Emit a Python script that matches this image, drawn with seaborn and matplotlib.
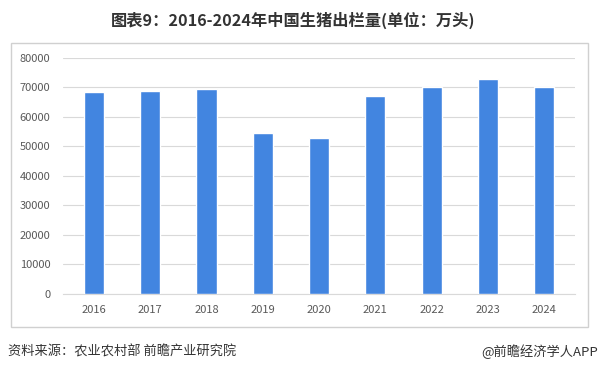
import numpy as np
import pandas as pd
import seaborn as sns
import matplotlib.pyplot as plt
from matplotlib.patches import Rectangle

#_____ data
years = ['2016', '2017', '2018', '2019', '2020', '2021', '2022', '2023', '2024']
output = [68502, 68861, 69382, 54419, 52704, 67128, 69995, 72662, 70256]
y_ticks = [0, 10000, 20000, 30000, 40000, 50000, 60000, 70000, 80000]

df = pd.DataFrame({'year': years, 'output': output})

sns.set_style('white')
plt.rcParams['font.family'] = ['Noto Sans CJK SC', 'DejaVu Sans']

fig = plt.figure(figsize=(5.98, 3.73), dpi=100)
ax = fig.add_axes([0.105, 0.212, 0.857, 0.633])

sns.barplot(data=df, x='year', y='output', color='#4285e0', saturation=1,
            width=0.36, ax=ax, zorder=3)

ax.set_ylim(0, 80000)
ax.set_xlim(-0.55, 8.55)
ax.set_yticks(y_ticks)
ax.set_yticklabels([str(v) for v in y_ticks])
ax.yaxis.grid(True, color='#d9d9d9', linewidth=0.8, zorder=0)
ax.set_xlabel('')
ax.set_ylabel('')
for s in ['top', 'right', 'left']:
    ax.spines[s].set_visible(False)
ax.spines['bottom'].set_color('#d9d9d9')
ax.tick_params(axis='both', length=0, labelsize=8, colors='#595959')
ax.tick_params(axis='x', pad=8)
ax.tick_params(axis='y', pad=9)

# outer frame
fig.patches.append(Rectangle((11 / 598, 1 - 327 / 373), 577 / 598, 284 / 373,
                             transform=fig.transFigure, fill=False,
                             edgecolor='#d0d0d0', linewidth=1))

fig.text(0.49, 1 - 20 / 373, '图表9：2016-2024年中国生猪出栏量(单位：万头)',
         ha='center', va='center', fontsize=11.7, fontweight='bold', color='#333333')
fig.text(8 / 598, 1 - 352 / 373, '资料来源：农业农村部 前瞻产业研究院',
         ha='left', va='center', fontsize=9.5, color='#333333')
fig.text(598 / 598, 1 - 352 / 373, '@前瞻经济学人APP',
         ha='right', va='center', fontsize=9.5, color='#333333')

fig.savefig('out.png', dpi=100)
